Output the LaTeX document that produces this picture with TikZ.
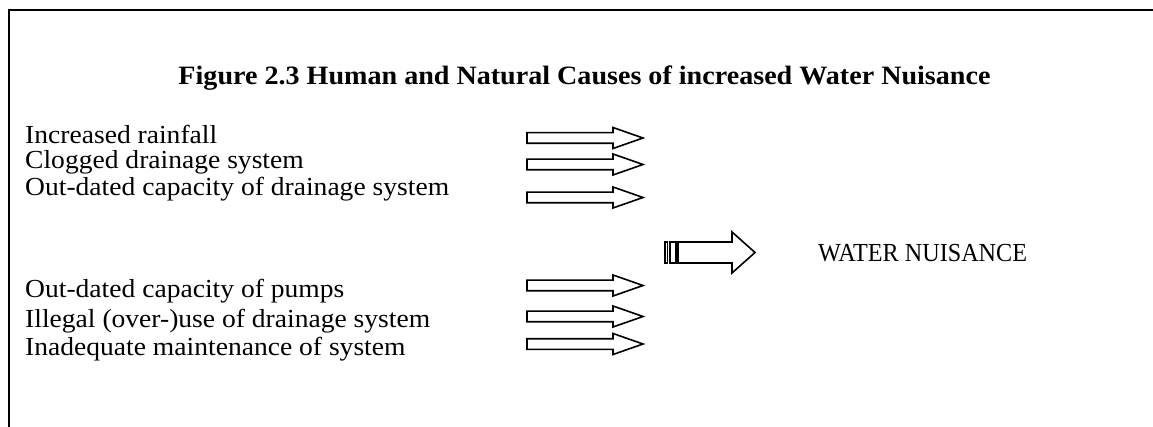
\documentclass[tikz,border=0pt]{standalone}
\usepackage{fontspec}
\setmainfont{Liberation Serif}[FakeStretch=1.06]
\newfontfamily\capsfont{Liberation Serif}[FakeStretch=0.93]

\begin{document}
\begin{tikzpicture}[x=1pt,y=-1pt,
    cause/.style={anchor=base west,inner sep=0pt,font=\fontsize{26}{30}\selectfont},
    blockarrow/.style={draw,line width=1.6pt,fill=white}]
  \useasboundingbox (0,0) rectangle (1153,427);
  % frame
  \draw[line width=2.6pt] (9,427) -- (9,10) -- (1153,10);
  \node[anchor=base,inner sep=0pt,font=\fontsize{26.5}{30}\selectfont\bfseries] (title) at (584.5,85)
    {Figure 2.3 Human and Natural Causes of increased Water Nuisance};

  % causes
  \node[cause] (rain) at (25,144) {Increased rainfall};
  \node[cause] (clog) at (25,169) {Clogged drainage system};
  \node[cause] (drain) at (25,196) {Out-dated capacity of drainage system};
  \node[cause] (pumps) at (25,298) {Out-dated capacity of pumps};
  \node[cause] (illegal) at (25,327) {Illegal (over-)use of drainage system};
  \node[cause] (maint) at (25,355) {Inadequate maintenance of system};

  % small arrows
  \foreach \y in {138,164.5,197.5,285.5,316.5,344}
    \draw[blockarrow] (527,\y-5.3) -- (613,\y-5.3) -- (613,\y-10.5) -- (643,\y)
      -- (613,\y+10.5) -- (613,\y+5.3) -- (527,\y+5.3) -- cycle;

  % striped arrow
  \draw[blockarrow] (665,242) rectangle (667.5,263);
  \draw[blockarrow] (670,242) rectangle (676,263);
  \draw[blockarrow] (678,242) -- (732,242) -- (732,232) -- (755,252.5)
    -- (732,273) -- (732,263) -- (678,263) -- cycle;
  \node[anchor=base west,inner sep=0pt,font=\fontsize{26}{30}\selectfont\capsfont] (nuisance) at (818,262)
    {WATER NUISANCE};
\end{tikzpicture}
\end{document}
